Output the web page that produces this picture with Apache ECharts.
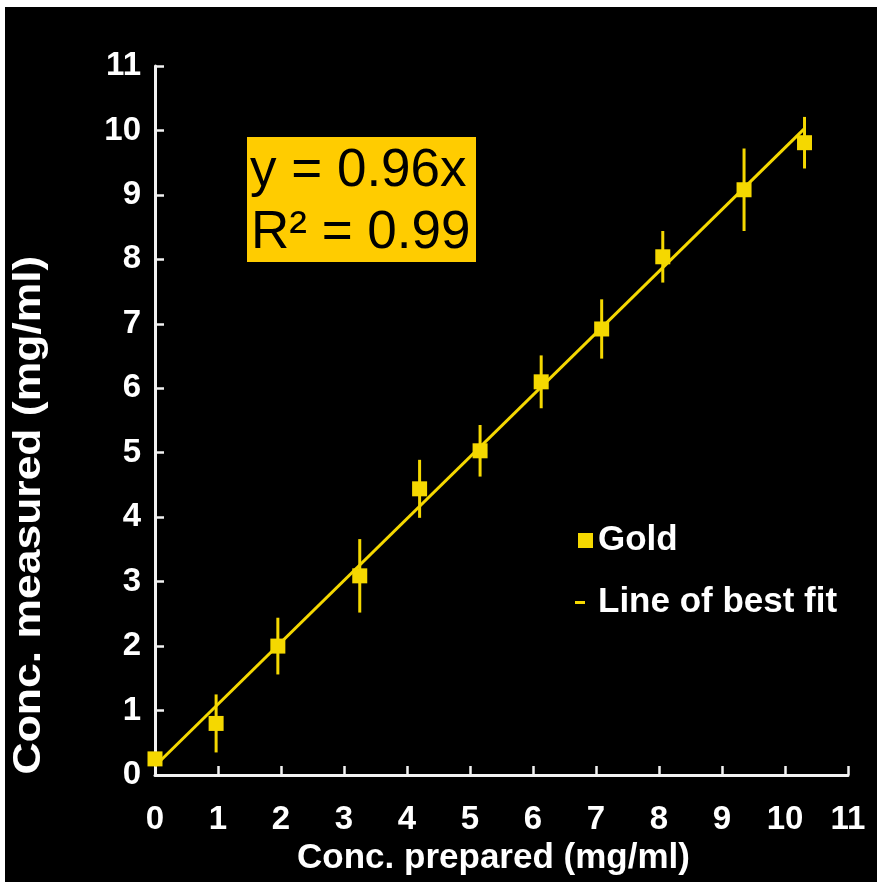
<!DOCTYPE html>
<html><head><meta charset="utf-8">
<script src="https://cdn.jsdelivr.net/npm/echarts@6/dist/echarts.min.js"></script>
<style>html,body{margin:0;padding:0;background:#fff}#c{width:877px;height:882px}</style>
</head><body><div id="c"></div>
<script>
// Data
const xPrepared = [0, 0.97, 1.95, 3.25, 4.20, 5.16, 6.13, 7.09, 8.06, 9.35, 10.31];
const yMeasured = [0.25, 0.80, 2.00, 3.09, 4.44, 5.03, 6.10, 6.92, 8.04, 9.08, 9.81];
const yError    = [0.06, 0.45, 0.44, 0.57, 0.45, 0.40, 0.41, 0.46, 0.40, 0.64, 0.40];
const fitX = [0, 10.30];
const fitY = [0.14, 10.02];
const axisTicks = [0, 1, 2, 3, 4, 5, 6, 7, 8, 9, 10, 11];
const equationLines = ['y = 0.96x', 'R\u00B2 = 0.99'];
const seriesNames = ['Gold', 'Line of best fit'];
const xTitle = 'Conc. prepared (mg/ml)';
const yTitle = 'Conc. measured (mg/ml)';

const YEL = '#F5D800';
const FONT = '"Liberation Sans", Arial, sans-serif';

const chart = echarts.init(document.getElementById('c'), null, {renderer: 'canvas'});
const pts = xPrepared.map((x, i) => [x, yMeasured[i]]);
const errData = xPrepared.map((x, i) => [x, yMeasured[i], yError[i]]);
const fitData = fitX.map((x, i) => [x, fitY[i]]);

const axisCommon = {
  type: 'value', min: axisTicks[0], max: axisTicks[axisTicks.length - 1], interval: 1,
  axisLine: {show: true, onZero: false, lineStyle: {color: '#f2f2f2', width: 3}},
  axisTick: {show: true, inside: true, length: 9, lineStyle: {color: '#f2f2f2', width: 2.5}},
  splitLine: {show: false},
  axisLabel: {color: '#ffffff', fontFamily: FONT, fontWeight: 'bold', fontSize: 33}
};

chart.setOption({
  backgroundColor: '#ffffff',
  animation: false,
  grid: {left: 155, top: 66, right: 29, bottom: 107, containLabel: false},
  xAxis: Object.assign({}, axisCommon, {
    axisLabel: Object.assign({}, axisCommon.axisLabel, {margin: 28}),
    name: xTitle, nameLocation: 'middle', nameGap: 66,
    nameTextStyle: {color: '#ffffff', fontFamily: FONT, fontWeight: 'bold', fontSize: 35, padding: [0, 16, 0, 0]}
  }),
  yAxis: Object.assign({}, axisCommon, {
    axisLabel: Object.assign({}, axisCommon.axisLabel, {margin: 14})
  }),
  legend: [
    {
      data: [{name: seriesNames[0], icon: 'rect', itemStyle: {color: YEL, opacity: 1}}],
      left: 578, top: 523, padding: 0, itemWidth: 15, itemHeight: 15,
      textStyle: {color: '#ffffff', fontFamily: FONT, fontWeight: 'bold', fontSize: 35, padding: [0, 0, 0, 0]}
    },
    {
      data: [{name: seriesNames[1], icon: 'rect'}],
      left: 575, top: 585, padding: 0, itemWidth: 10, itemHeight: 3,
      textStyle: {color: '#ffffff', fontFamily: FONT, fontWeight: 'bold', fontSize: 35, padding: [0, 0, 0, 8]}
    }
  ],
  graphic: [
    {type: 'rect', z: -100, silent: true, shape: {x: 5, y: 7, width: 872, height: 875}, style: {fill: '#000000'}},
    {type: 'rect', z: 100, shape: {x: 247, y: 137, width: 229, height: 125}, style: {fill: '#FFCC00'}},
    {type: 'text', z: 101, x: 250, y: 171, style: {text: equationLines[0], fill: '#000', font: 'normal 53px ' + FONT, verticalAlign: 'middle', align: 'left'}},
    {type: 'text', z: 101, x: 251, y: 233, style: {text: equationLines[1], fill: '#000', font: 'normal 53px ' + FONT, verticalAlign: 'middle', align: 'left'}},
    {type: 'text', z: 101, x: 30, y: 515, rotation: Math.PI / 2, scaleX: 1.17, style: {text: yTitle, fill: '#fff', font: 'bold 38px ' + FONT, verticalAlign: 'middle', align: 'center'}}
  ],
  series: [
    {
      name: seriesNames[1], type: 'line', data: fitData, showSymbol: false, symbol: 'none',
      lineStyle: {color: YEL, width: 3, opacity: 1}, itemStyle: {color: YEL}, z: 2
    },
    {
      name: 'errors', type: 'custom', data: errData, z: 3,
      encode: {x: 0, y: 1},
      renderItem: function (params, api) {
        const x = api.value(0), y = api.value(1), e = api.value(2);
        const p1 = api.coord([x, y - e]);
        const p2 = api.coord([x, y + e]);
        return {type: 'line', shape: {x1: p1[0], y1: p1[1], x2: p2[0], y2: p2[1]}, style: {stroke: YEL, lineWidth: 3}};
      }
    },
    {
      name: seriesNames[0], type: 'scatter', data: pts, symbol: 'rect', symbolSize: 15,
      itemStyle: {color: YEL, opacity: 1}, z: 4
    }
  ]
});
</script>
</body></html>
